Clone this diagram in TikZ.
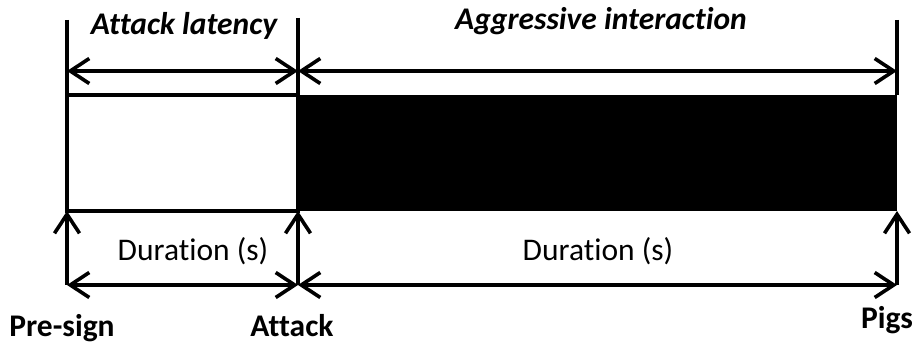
\documentclass[tikz,border=0pt]{standalone}
\usepackage{fontspec}
\setmainfont[Ligatures=NoCommon]{Carlito}
\usetikzlibrary{arrows.meta}
\begin{document}
\begin{tikzpicture}[x=1pt,y=-1pt,
  thick line/.style={line width=3.6pt},
  barb/.style={thick line,{Straight Barb[length=19pt,width=25pt,line width=3.6pt]}-{Straight Barb[length=19pt,width=25pt,line width=3.6pt]}},
  upbarb/.style={thick line,-{Straight Barb[length=19pt,width=25pt,line width=3.6pt]}},
  title/.style={anchor=base,font=\fontsize{31.5}{36}\selectfont\bfseries\itshape},
  label/.style={anchor=base,font=\fontsize{31.5}{36}\selectfont},
  event/.style={anchor=base,font=\fontsize{31.5}{36}\selectfont\bfseries}]
\useasboundingbox (0,0) rectangle (914,347);
% key positions along the time line
\coordinate (p0) at (67,95);   \coordinate (p0b) at (67,211);
\coordinate (a0) at (298,95);  \coordinate (a0b) at (298,211);
\coordinate (g0) at (897,95);  \coordinate (g0b) at (897,211);
% top boundary ticks
\coordinate (pt) at (67,20);  \coordinate (at) at (298,18);  \coordinate (gt) at (897,20);
% levels of the dimension arrows
\coordinate (pl) at (67,71);  \coordinate (al) at (298,71);  \coordinate (gl) at (897,71);
\coordinate (pd) at (67,285); \coordinate (ad) at (298,285); \coordinate (gd) at (897,285);
% the two phases
\fill (a0) rectangle (g0b);
\draw[thick line] (p0) rectangle (a0b);
\draw[thick line] (pt) -- (p0b);
\draw[thick line] (at) -- (a0);
\draw[thick line] (gt) -- (g0);
% durations above the bar
\draw[barb] (pl) -- (al);
\draw[barb] (al) -- (gl);
% event markers below the bar
\draw[upbarb] (pd) -- (p0b);
\draw[upbarb] (ad) -- (a0b);
\draw[upbarb] (gd) -- (g0b);
\draw[barb] (pd) -- (ad);
\draw[barb] (ad) -- (gd);
% texts
\node[title] (latency) at (184,35) {Attack latency};
\node[title] (aggr) at (601,30) {Aggressive interaction};
\node[label] (dur1) at (193,261) {Duration (s)};
\node[label] (dur2) at (598,261) {Duration (s)};
\node[event] (presign) at (62,337) {Pre-sign};
\node[event] (attack) at (292,337) {Attack};
\node[event] (pigs) at (887,329) {Pigs};
\end{tikzpicture}
\end{document}
